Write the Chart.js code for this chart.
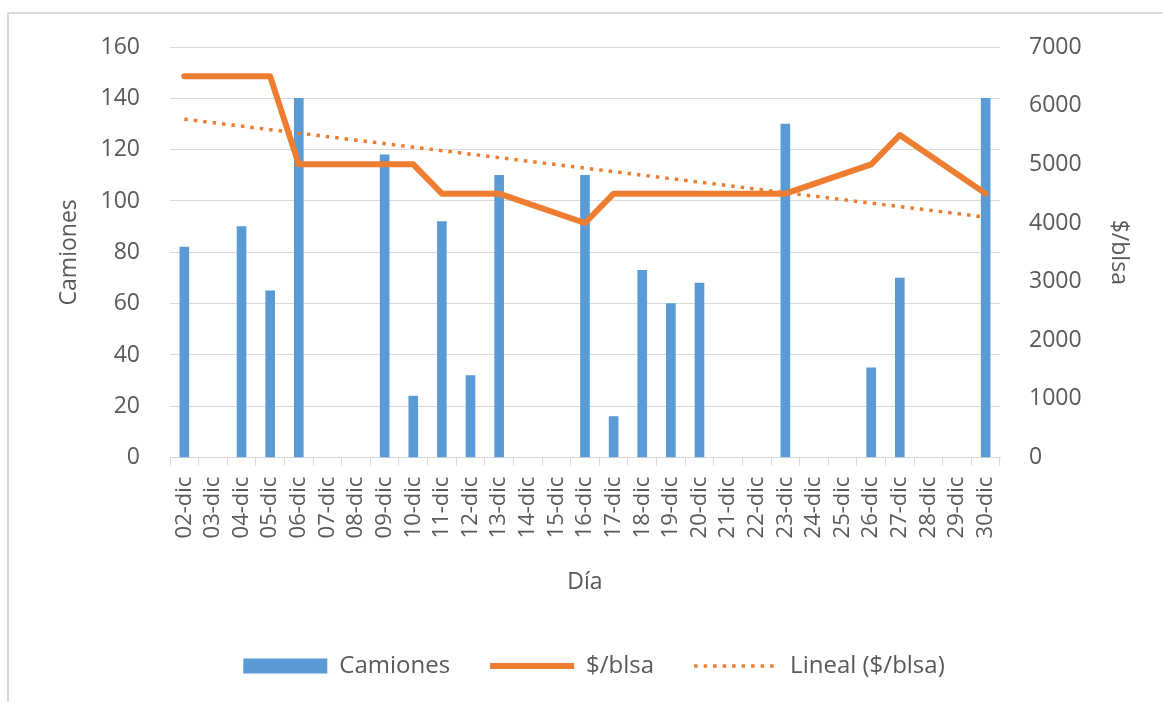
<!DOCTYPE html>
<html>
<head>
<meta charset="utf-8">
<script src="https://cdn.jsdelivr.net/npm/chart.js@4/dist/chart.umd.min.js"></script>
<style>
  body { margin: 0; background: #fff; }
  #frame { position: absolute; left: 7px; top: 12px; right: -10px; bottom: -10px; border: 2px solid #d9d9d9; }
  #wrap { position: absolute; left: 0; top: 0; width: 1163px; height: 702px; }
</style>
</head>
<body>
<div id="frame"></div>
<div id="wrap"><canvas id="chart"></canvas></div>
<script>
const dias = ["02-dic", "03-dic", "04-dic", "05-dic", "06-dic", "07-dic", "08-dic", "09-dic", "10-dic", "11-dic",
  "12-dic", "13-dic", "14-dic", "15-dic", "16-dic", "17-dic", "18-dic", "19-dic", "20-dic", "21-dic",
  "22-dic", "23-dic", "24-dic", "25-dic", "26-dic", "27-dic", "28-dic", "29-dic", "30-dic"];

const camiones = [82, null, 90, 65, 140, null, null, 118, 24, 92,
  32, 110, null, null, 110, 16, 73, 60, 68, null,
  null, 130, null, null, 35, 70, null, null, 140];

const precio = [6500, null, 6500, 6500, 5000, null, null, 5000, 5000, 4500,
  4500, 4500, null, null, 4000, 4500, 4500, 4500, 4500, null,
  null, 4500, null, null, 5000, 5500, null, null, 4500];

// linea de tendencia: solo los extremos
const tendencia = [5770, null, null, null, null, null, null, null, null, null,
  null, null, null, null, null, null, null, null, null, null,
  null, null, null, null, null, null, null, null, 4100];

const gris = "#595959";
const azul = "#5b9bd5";
const naranja = "#ed7d31";
const fuente = "'Open Sans', sans-serif";

new Chart(document.getElementById("chart"), {
  data: {
    labels: dias,
    datasets: [
      {
        type: "bar",
        label: "Camiones",
        data: camiones,
        backgroundColor: azul,
        borderWidth: 0,
        barThickness: 9,
        yAxisID: "y",
        order: 3
      },
      {
        type: "line",
        label: "$/blsa",
        data: precio,
        borderColor: naranja,
        backgroundColor: naranja,
        borderWidth: 6,
        borderJoinStyle: "round",
        borderCapStyle: "round",
        pointRadius: 0,
        spanGaps: true,
        yAxisID: "y1",
        order: 1
      },
      {
        type: "line",
        label: "Lineal ($/blsa)",
        data: tendencia,
        borderColor: naranja,
        backgroundColor: naranja,
        borderWidth: 3.5,
        borderDash: [3.5, 6],
        pointRadius: 0,
        spanGaps: true,
        yAxisID: "y1",
        order: 2
      }
    ]
  },
  options: {
    responsive: true,
    maintainAspectRatio: false,
    animation: false,
    layout: { autoPadding: false, padding: { left: 52, right: 27, top: 47, bottom: 14 } },
    plugins: {
      tooltip: { enabled: false },
      legend: {
        position: "bottom",
        labels: {
          usePointStyle: true,
          pointStyleWidth: 84,
          boxHeight: 15,
          padding: 40,
          color: gris,
          font: { family: fuente, size: 24 },
          generateLabels: chart => chart.data.datasets.map((ds, i) => ({
            text: ds.label,
            fillStyle: ds.backgroundColor,
            strokeStyle: ds.type === "bar" ? ds.backgroundColor : ds.borderColor,
            lineWidth: ds.type === "bar" ? 0 : ds.borderWidth,
            lineDash: ds.borderDash || [],
            lineCap: "butt",
            pointStyle: ds.type === "bar" ? "rect" : "line",
            fontColor: gris,
            hidden: false,
            datasetIndex: i
          }))
        }
      }
    },
    scales: {
      x: {
        offset: true,
        grid: { display: true, offset: true, drawOnChartArea: false, drawTicks: true, tickLength: 8, color: "#d9d9d9" },
        border: { display: true, color: "#d9d9d9", width: 1 },
        ticks: { color: gris, font: { family: fuente, size: 22 }, minRotation: 90, maxRotation: 90, autoSkip: false, padding: 11 },
        title: { display: true, text: "Día", color: gris, font: { family: fuente, size: 23 }, padding: { top: 19, bottom: 18 } }
      },
      y: {
        position: "left",
        min: 0,
        max: 160,
        afterFit: scale => { scale.width = 118; },
        ticks: { stepSize: 20, color: gris, font: { family: fuente, size: 23 }, padding: 30 },
        grid: { color: "#d9d9d9", drawTicks: false },
        border: { display: false },
        title: { display: true, text: "Camiones", color: gris, font: { family: fuente, size: 23 }, padding: { top: 4, bottom: 16 } }
      },
      y1: {
        position: "right",
        min: 0,
        max: 7000,
        afterFit: scale => { scale.width = 136; },
        ticks: { stepSize: 1000, color: gris, font: { family: fuente, size: 23 }, padding: 29, callback: v => String(v) },
        grid: { drawOnChartArea: false, drawTicks: false },
        border: { display: false },
        title: { display: true, text: "$/blsa", color: gris, font: { family: fuente, size: 23 }, padding: { top: 4, bottom: 21 } }
      }
    }
  }
});
</script>
</body>
</html>
